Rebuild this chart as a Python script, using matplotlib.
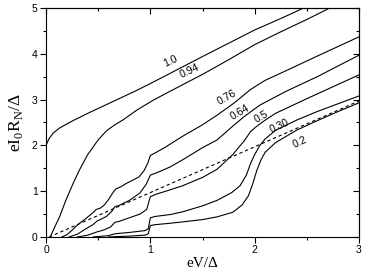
import matplotlib
matplotlib.use('Agg')
import matplotlib.pyplot as plt

plt.rcParams['font.family'] = ['Liberation Sans', 'DejaVu Sans']
plt.rcParams['mathtext.fontset'] = 'custom'
plt.rcParams['mathtext.rm'] = 'Liberation Serif'

# curves (x = eV/Delta, y = eI0RN/Delta)
x_10 = [0, 0.03, 0.07, 0.13, 0.25, 0.4, 0.55, 0.7, 0.85, 1.0, 1.28, 1.5, 1.75, 2.0, 2.25, 2.47]
y_10 = [2.0, 2.15, 2.27, 2.38, 2.53, 2.7, 2.86, 3.02, 3.18, 3.35, 3.68, 3.94, 4.23, 4.52, 4.77, 5.0]

x_094 = [0.04, 0.08, 0.13, 0.19, 0.26, 0.32, 0.4, 0.5, 0.58, 0.66, 0.74, 0.87, 1.03, 1.28, 1.5, 1.75, 2.0, 2.25, 2.5, 2.72]
y_094 = [0, 0.2, 0.44, 0.8, 1.17, 1.46, 1.8, 2.12, 2.32, 2.45, 2.56, 2.77, 2.99, 3.29, 3.55, 3.87, 4.2, 4.48, 4.75, 5.0]

x_076 = [0.15, 0.2, 0.25, 0.3, 0.38, 0.45, 0.48, 0.52, 0.56, 0.6, 0.645, 0.67, 0.72, 0.77, 0.83, 0.89, 0.94, 0.975, 1.0,
         1.05, 1.15, 1.31, 1.5, 1.64, 1.8, 1.96, 2.1, 2.3, 2.6, 3.0]
y_076 = [0, 0.05, 0.15, 0.26, 0.4, 0.53, 0.6, 0.63, 0.7, 0.82, 0.98, 1.05, 1.1, 1.17, 1.24, 1.31, 1.45, 1.61, 1.78,
         1.84, 1.97, 2.2, 2.45, 2.66, 2.92, 3.22, 3.42, 3.63, 3.95, 4.37]

x_064 = [0.22, 0.3, 0.39, 0.45, 0.49, 0.52, 0.58, 0.63, 0.66, 0.7, 0.8, 0.9, 0.96, 1.0, 1.08, 1.19, 1.32, 1.5, 1.64,
         1.79, 1.9, 2.05, 2.3, 2.6, 3.0]
y_064 = [0, 0.06, 0.19, 0.27, 0.35, 0.38, 0.45, 0.56, 0.66, 0.69, 0.8, 0.96, 1.15, 1.35, 1.42, 1.53, 1.7, 1.95, 2.12,
         2.42, 2.63, 2.88, 3.18, 3.5, 3.97]

x_05 = [0.3, 0.4, 0.5, 0.55, 0.62, 0.66, 0.7, 0.8, 0.9, 0.965, 1.0, 1.05, 1.19, 1.31, 1.5, 1.64, 1.79, 1.9, 1.96, 2.0,
        2.05, 2.1, 2.2, 2.5, 3.0]
y_05 = [0, 0.04, 0.12, 0.15, 0.22, 0.32, 0.34, 0.42, 0.5, 0.6, 0.88, 0.93, 1.03, 1.12, 1.3, 1.48, 1.8, 2.1, 2.3, 2.38,
        2.47, 2.55, 2.7, 3.02, 3.54]

x_030 = [0.45, 0.6, 0.66, 0.8, 0.95, 0.98, 1.0, 1.05, 1.19, 1.31, 1.5, 1.64, 1.78, 1.86, 1.92, 1.96, 2.0, 2.05, 2.1,
         2.2, 2.4, 2.6, 2.8, 3.0]
y_030 = [0, 0.03, 0.07, 0.1, 0.14, 0.18, 0.42, 0.45, 0.49, 0.55, 0.68, 0.8, 0.97, 1.12, 1.35, 1.6, 1.8, 2.0, 2.14,
         2.33, 2.55, 2.74, 2.91, 3.08]

x_02 = [0.6, 0.8, 0.95, 0.98, 1.0, 1.05, 1.19, 1.31, 1.5, 1.64, 1.79, 1.88, 1.94, 1.98, 2.02, 2.06, 2.1, 2.2, 2.4, 2.6,
        2.8, 3.0]
y_02 = [0, 0.02, 0.04, 0.07, 0.25, 0.27, 0.3, 0.33, 0.38, 0.44, 0.54, 0.7, 0.9, 1.15, 1.45, 1.68, 1.85, 2.06, 2.33, 2.54,
        2.74, 2.93]

# ohmic line
x_ohm = [0.03, 3.0]
y_ohm = [0.0, 2.97]

labels = ['1.0', '0.94', '0.76', '0.64', '0.5', '0.30', '0.2']
label_x = [1.19, 1.38, 1.73, 1.86, 2.06, 2.24, 2.43]
label_y = [3.84, 3.62, 3.05, 2.72, 2.62, 2.42, 2.08]
label_rot = [25, 25, 30, 30, 30, 25, 25]

fig = plt.figure(figsize=(3.91, 2.73), dpi=100)
ax = fig.add_axes([46/391, 1-237/273, 313/391, 229/273])

for xs, ys in [(x_10, y_10), (x_094, y_094), (x_076, y_076), (x_064, y_064),
               (x_05, y_05), (x_030, y_030), (x_02, y_02)]:
    ax.plot(xs, ys, color='black', lw=0.8)
ax.plot(x_ohm, y_ohm, color='black', lw=0.8, ls=(0, (3, 2.5)))

for t, lx, ly, r in zip(labels, label_x, label_y, label_rot):
    ax.text(lx, ly, t, fontsize=7.5, rotation=r, ha='center', va='center')

ax.set_xlim(0, 3)
ax.set_ylim(0, 5)
ax.set_xticks([0, 1, 2, 3])
ax.set_xticks([0.5, 1.5, 2.5], minor=True)
ax.set_yticks([0, 1, 2, 3, 4, 5])
ax.set_yticks([0.5, 1.5, 2.5, 3.5, 4.5], minor=True)
ax.tick_params(which='major', direction='out', length=4, width=0.8, labelsize=7.5, pad=2)
ax.tick_params(which='minor', direction='out', length=2.5, width=0.8)

# inner ticks on top and right
top = ax.secondary_xaxis('top')
top.set_xticks([0, 1, 2, 3])
top.set_xticks([0.5, 1.5, 2.5], minor=True)
top.tick_params(which='both', direction='in', labeltop=False)
top.tick_params(which='major', length=4, width=0.8)
top.tick_params(which='minor', length=2.5, width=0.8)
right = ax.secondary_yaxis('right')
right.set_yticks([0, 1, 2, 3, 4, 5])
right.set_yticks([0.5, 1.5, 2.5, 3.5, 4.5], minor=True)
right.tick_params(which='both', direction='in', labelright=False)
right.tick_params(which='major', length=4, width=0.8)
right.tick_params(which='minor', length=2.5, width=0.8)

for s in ax.spines.values():
    s.set_linewidth(0.8)

ax.set_xlabel('eV/Δ', family='Liberation Serif', fontsize=11, labelpad=1)
ax.set_ylabel(r'eI$_\mathrm{0}$R$_\mathrm{N}$/Δ', family='Liberation Serif', fontsize=12.5, labelpad=5)

plt.savefig('out.png', dpi=100)
